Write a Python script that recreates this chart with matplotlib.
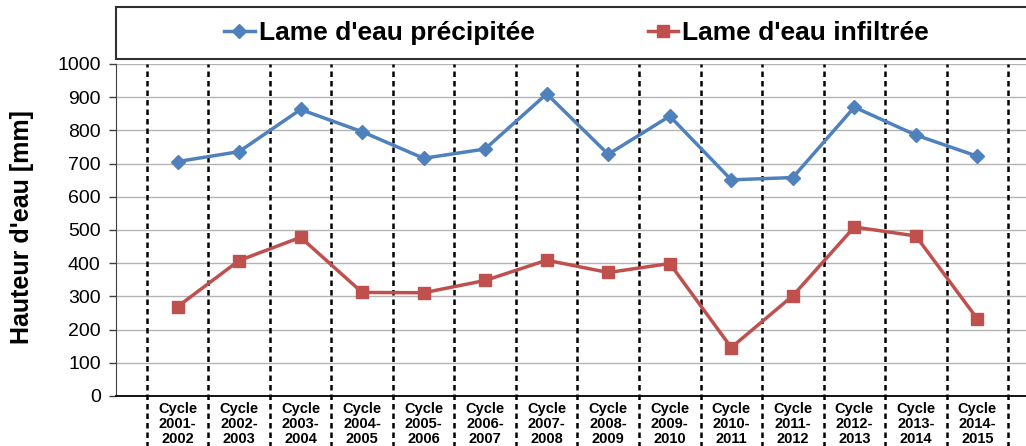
import matplotlib
matplotlib.use("Agg")
import matplotlib.pyplot as plt
from matplotlib.patches import Rectangle

plt.rcParams['font.family'] = ['Liberation Sans', 'DejaVu Sans']

cycles = ["Cycle\n2001-\n2002", "Cycle\n2002-\n2003", "Cycle\n2003-\n2004", "Cycle\n2004-\n2005",
          "Cycle\n2005-\n2006", "Cycle\n2006-\n2007", "Cycle\n2007-\n2008", "Cycle\n2008-\n2009",
          "Cycle\n2009-\n2010", "Cycle\n2010-\n2011", "Cycle\n2011-\n2012", "Cycle\n2012-\n2013",
          "Cycle\n2013-\n2014", "Cycle\n2014-\n2015"]
precipitee = [706, 736, 863, 796, 716, 744, 910, 728, 843, 651, 658, 870, 786, 722]
infiltree = [269, 408, 478, 312, 311, 348, 409, 372, 399, 146, 302, 509, 482, 232]

x = list(range(1, len(cycles) + 1))

fig = plt.figure(figsize=(10.26, 4.46), dpi=100)
ax = fig.add_axes([116 / 1026, 50 / 446, 910 / 1026, 332 / 446])

ax.set_ylim(0, 1000)
ax.set_xlim(0, 14.79)
ax.set_yticks(range(0, 1001, 100))
ax.tick_params(axis='y', labelsize=14, length=5, width=1, color='#404040', pad=6)
ax.set_xticks(x)
ax.set_xticklabels(cycles, fontsize=10.5, fontweight='bold', linespacing=1.1)
ax.tick_params(axis='x', length=0, pad=4)

ax.grid(axis='y', color='#b4b4b4', lw=1)
ax.set_axisbelow(True)
for s in ['top', 'right']:
    ax.spines[s].set_visible(False)
ax.spines['left'].set_color('#404040')
ax.spines['bottom'].set_color('#000000')
ax.spines['bottom'].set_linewidth(1.3)

# dashed separators between cycles, running down through the labels
for b in range(len(cycles) + 1):
    ax.plot([b + 0.5, b + 0.5], [-160, 1000], color='black', lw=1.8,
            ls=(0, (2.2, 1.6)), clip_on=False, zorder=1)

ax.plot(x, precipitee, color='#4f81bd', lw=2.5, marker='D', ms=7,
        label="Lame d'eau précipitée", zorder=3)
ax.plot(x, infiltree, color='#c0504d', lw=2.5, marker='s', ms=9,
        label="Lame d'eau infiltrée", zorder=3)

# legend frame across the top
fig.patches.append(Rectangle((116 / 1026, 1 - 59 / 446), 0.9, 52 / 446,
                             transform=fig.transFigure, fc='white',
                             ec='#303030', lw=1.5))
fig.legend(loc='center', bbox_to_anchor=(0.562, 1 - 33 / 446), ncol=2,
           frameon=False, prop={'weight': 'bold', 'size': 19},
           handlelength=1.15, handletextpad=0.15, columnspacing=4.3)

fig.text(22 / 1026, 1 - 227 / 446, "Hauteur d'eau [mm]", rotation=90,
         fontsize=18, fontweight='bold', ha='center', va='center')

fig.savefig("out.png", dpi=100)
